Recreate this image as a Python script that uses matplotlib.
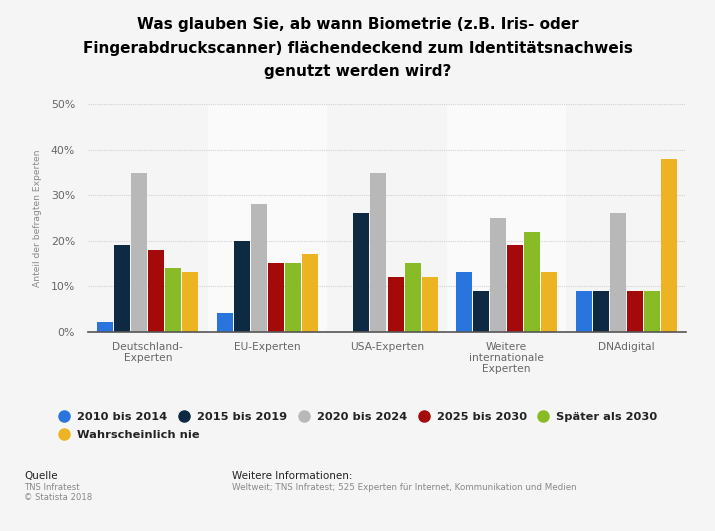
# -*- coding: utf-8 -*-
import matplotlib
matplotlib.use('Agg')
import numpy as np
import matplotlib.pyplot as plt
from matplotlib.lines import Line2D

categories = ['Deutschland-\nExperten', 'EU-Experten', 'USA-Experten',
              'Weitere\ninternationale\nExperten', 'DNAdigital']
series_names = ['2010 bis 2014', '2015 bis 2019', '2020 bis 2024',
                '2025 bis 2030', 'Später als 2030', 'Wahrscheinlich nie']
v_2010 = [2, 4, 0, 13, 9]
v_2015 = [19, 20, 26, 9, 9]
v_2020 = [35, 28, 35, 25, 26]
v_2025 = [18, 15, 12, 19, 9]
v_spaeter = [14, 15, 15, 22, 9]
v_nie = [13, 17, 12, 13, 38]
y_ticks = [0, 10, 20, 30, 40, 50]

colors = ['#2a75dd', '#0e2a42', '#b8b8b8', '#a50a0a', '#88bb25', '#ecb422']
W, H = 715, 531

fig = plt.figure(figsize=(W / 100, H / 100), dpi=100, facecolor='#f5f5f5')
ax = fig.add_axes([88 / W, 1 - 331.5 / H, 598 / W, 227 / H], facecolor='#f5f5f5')

# helle Streifen hinter jeder zweiten Gruppe
for i in [1, 3]:
    ax.axvspan(i - 0.5, i + 0.5, color='#fafafa', lw=0, zorder=0)

ax.yaxis.grid(True, color='#d2d2d2', linestyle=(0, (1, 1)), linewidth=0.8, zorder=1)
ax.set_axisbelow(True)

x = np.arange(len(categories))
step = 0.1426
all_values = [v_2010, v_2015, v_2020, v_2025, v_spaeter, v_nie]
for k, vals in enumerate(all_values):
    ax.bar(x + (k - 2.5) * step, vals, width=0.134, color=colors[k], zorder=2)

ax.set_xlim(-0.5, 4.5)
ax.set_ylim(0, 50)
ax.set_yticks(y_ticks)
ax.set_yticklabels(['%d%%' % t for t in y_ticks], fontsize=7.8, color='#666666')
ax.set_xticks(x)
ax.set_xticklabels(categories, fontsize=7.7, color='#666666', linespacing=1.15)
ax.tick_params(axis='both', length=0)
ax.tick_params(axis='x', pad=7.5)
ax.tick_params(axis='y', pad=9.3)
for s in ['top', 'left', 'right']:
    ax.spines[s].set_visible(False)
ax.spines['bottom'].set_color('#555555')
ax.spines['bottom'].set_linewidth(1.2)

fig.text(38 / W, 1 - 218.5 / H, 'Anteil der befragten Experten', rotation=90,
         fontsize=6.6, color='#888888', ha='center', va='center')

fig.text(357.5 / W, 1 - 48 / H,
         'Was glauben Sie, ab wann Biometrie (z.B. Iris- oder\n'
         'Fingerabdruckscanner) flächendeckend zum Identitätsnachweis\n'
         'genutzt werden wird?',
         fontsize=11, fontweight='bold', color='#000000', ha='center', va='center',
         linespacing=1.68)

# zwei Legenden, weil die Spaltenbreite sonst von "Wahrscheinlich nie" abhaengt
handles = [Line2D([], [], linestyle='none', marker='o', markersize=8, color=c) for c in colors]
legend_style = dict(loc='center left', frameon=False, borderpad=0, borderaxespad=0,
                    handletextpad=0.54, handlelength=1.2, columnspacing=0.87,
                    prop={'size': 8.2, 'weight': 'bold'}, labelcolor='#222222')
fig.legend(handles[:5], series_names[:5], ncol=5,
           bbox_to_anchor=(57.2 / W, 1 - 416.5 / H), **legend_style)
fig.legend(handles[5:], series_names[5:], ncol=1,
           bbox_to_anchor=(57.2 / W, 1 - 434.5 / H), **legend_style)

fig.text(24 / W, 1 - 475.7 / H, 'Quelle', fontsize=7.5, color='#222222', va='center')
fig.text(24 / W, 1 - 487 / H, 'TNS Infratest', fontsize=6.1, color='#888888', va='center')
fig.text(24 / W, 1 - 498 / H, '© Statista 2018', fontsize=6.1, color='#888888', va='center')
fig.text(232 / W, 1 - 475.7 / H, 'Weitere Informationen:', fontsize=7.5, color='#222222', va='center')
fig.text(232 / W, 1 - 487 / H,
         'Weltweit; TNS Infratest; 525 Experten für Internet, Kommunikation und Medien',
         fontsize=6.27, color='#888888', va='center')

fig.savefig('out.png', dpi=100, facecolor=fig.get_facecolor())
